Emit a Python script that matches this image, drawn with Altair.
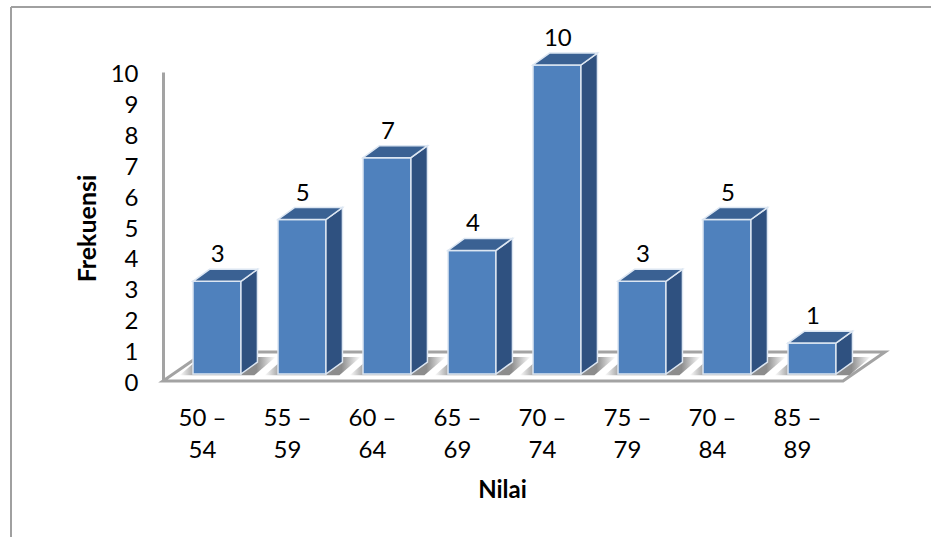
import json
import altair as alt
import pandas as pd

# Frequency distribution of scores
categories = ["50 –\n54", "55 –\n59", "60 –\n64", "65 –\n69", "70 –\n74", "75 –\n79", "70 –\n84", "85 –\n89"]
frequencies = [3, 5, 7, 4, 10, 3, 5, 1]

# Pseudo-3D geometry, in category and frequency units
HALF = 0.282
DX, DY = 0.194, 0.388
BASE = 0.226
FLOOR_X0, FLOOR_X1 = -0.635, 7.365
FLOOR_DX, FLOOR_DY = 0.494, 0.94
FONT = "Lato"
GRID = "#a3a3a3"

rows = list(enumerate(frequencies))
front = pd.DataFrame([
    {"bar": i, "x": i - HALF, "x2": i + HALF, "y": BASE, "y2": BASE + v} for i, v in rows
])
side = pd.DataFrame([
    {"bar": i, "x": i + HALF + k * DX, "y": BASE + k * DY, "y2": BASE + v + k * DY}
    for i, v in rows for k in (0, 1)
])
top = pd.DataFrame([
    {"bar": i, "x": i - HALF + k * DX, "x2": i + HALF + k * DX, "y": BASE + v + k * DY}
    for i, v in rows for k in (0, 1)
])
shadow = pd.DataFrame([
    {"bar": i, "x": i - 0.44 + k * 0.25, "x2": i + 0.44 + k * 0.25, "y": 0.19 + k * 0.59}
    for i, v in rows for k in (0, 1)
])
floor = pd.DataFrame([
    {"x": FLOOR_X0 + k * FLOOR_DX, "x2": FLOOR_X1 + k * FLOOR_DX, "y": k * FLOOR_DY} for k in (0, 1)
])
labels = pd.DataFrame({"x": [i + 0.01 for i, _ in rows], "y": [v + BASE + DY for _, v in rows], "v": frequencies})

xs = alt.Scale(domain=[FLOOR_X0, FLOOR_X1 + FLOOR_DX], nice=False, zero=False)
ys = alt.Scale(domain=[0, 10], nice=False, zero=False)

label_expr = "split(" + json.dumps(categories) + "[datum.value], '\\n')"
x_axis = alt.Axis(
    values=list(range(len(categories))), labelExpr=label_expr, title="Nilai",
    domain=False, ticks=False, grid=False, labelOverlap=False, labelOffset=-15,
    labelBaseline="top", labelPadding=25, labelLineHeight=32, labelFont=FONT, labelFontSize=24,
    labelColor="#000000", labelFlush=False,
    titleFont=FONT, titleFontSize=24, titleFontWeight="bold", titleColor="#000000",
    titleX=339, titleY=109, titleBaseline="middle",
)
y_axis = alt.Axis(
    values=list(range(11)), title="Frekuensi", format="d",
    domainColor=GRID, domainWidth=3, ticks=False, grid=False, labelOverlap=False,
    labelPadding=25, labelOffset=2.5, labelFont=FONT, labelFontSize=24, labelColor="#000000", labelFlush=False,
    titleFont=FONT, titleFontSize=25, titleFontWeight="bold", titleColor="#000000",
    titleX=-76, titleY=156, titleBaseline="middle",
)
X = alt.X("x:Q", scale=xs, axis=x_axis)
Y = alt.Y("y:Q", scale=ys, axis=y_axis)

floor_layer = alt.Chart(floor).mark_area(
    orient="horizontal", fill="#ffffff", stroke=GRID, strokeWidth=3
).encode(X, alt.X2("x2:Q"), Y)

# Soft cast shadow on the floor, darkest beside each bar's side face
shade = alt.Gradient(
    gradient="linear", x1=0, x2=1, y1=0, y2=0,
    stops=[
        alt.GradientStop(color="#ffffff", offset=0),
        alt.GradientStop(color="#a8a8a8", offset=0.14),
        alt.GradientStop(color="#8c8c8c", offset=0.72),
        alt.GradientStop(color="#8c8c8c", offset=0.8),
        alt.GradientStop(color="#ffffff", offset=1),
    ],
)
shadow_layer = alt.Chart(shadow).mark_area(orient="horizontal", color=shade).encode(X, alt.X2("x2:Q"), Y, detail="bar:N")

EDGE = "#dce6f2"
front_layer = alt.Chart(front).mark_rect(color="#4f81bd", stroke=EDGE, strokeWidth=1.5).encode(X, alt.X2("x2:Q"), Y, alt.Y2("y2:Q"))
side_layer = alt.Chart(side).mark_area(color="#2f5180", stroke=EDGE, strokeWidth=1.5).encode(X, Y, alt.Y2("y2:Q"), detail="bar:N")
top_layer = alt.Chart(top).mark_area(orient="horizontal", color="#3a6193", stroke=EDGE, strokeWidth=1.5).encode(X, alt.X2("x2:Q"), Y, detail="bar:N")

value_layer = alt.Chart(labels).mark_text(font=FONT, fontSize=24, color="#000000", baseline="middle", dy=-14).encode(X, Y, text="v:Q")

# Outer frame along the top and left of the figure
one = pd.DataFrame({"a": [0]})
frame_top = alt.Chart(one).mark_rule(color="#a0a0a0", strokeWidth=2).encode(
    x=alt.value(-152), x2=alt.value(768), y=alt.value(-65))
frame_left = alt.Chart(one).mark_rule(color="#a0a0a0", strokeWidth=2).encode(
    x=alt.value(-152), y=alt.value(-65), y2=alt.value(465))

chart = alt.layer(
    frame_top, frame_left, floor_layer, shadow_layer, front_layer, side_layer, top_layer, value_layer
).properties(
    width=722, height=309,
    padding={"left": 163, "top": 72, "right": 46, "bottom": 156},
    autosize=alt.AutoSizeParams(type="none"),
    background="#ffffff",
).configure_view(stroke=None)

chart.save("out.html", embed_options={"renderer": "svg", "actions": False})
